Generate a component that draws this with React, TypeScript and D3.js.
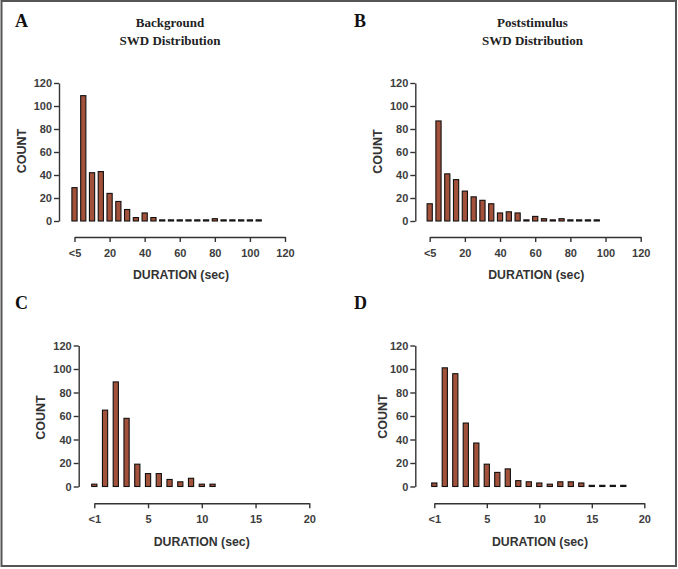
import React, { useEffect, useRef } from "react";
import * as d3 from "d3";

// Bin starts (seconds) and counts
const binsA = [0, 5, 10, 15, 20, 25, 30, 35, 40, 45, 50, 55, 60, 65, 70, 75, 80, 85, 90, 95, 100, 105];
const countsA = [29, 109, 42, 43, 24, 17, 10, 3, 7, 3, 1, 1, 1, 1, 1, 1, 2, 1, 1, 1, 1, 1];

const binsB = [0, 5, 10, 15, 20, 25, 30, 35, 40, 45, 50, 55, 60, 65, 70, 75, 80, 85, 90, 95];
const countsB = [15, 87, 41, 36, 26, 21, 18, 15, 7, 8, 7, 1, 4, 2, 1, 2, 1, 1, 1, 1];

const binsC = [0, 1, 2, 3, 4, 5, 6, 7, 8, 9, 10, 11];
const countsC = [2, 65, 89, 58, 19, 11, 11, 6, 4, 7, 2, 2];

const binsD = [0, 1, 2, 3, 4, 5, 6, 7, 8, 9, 10, 11, 12, 13, 14, 15, 16, 17, 18];
const countsD = [3, 101, 96, 54, 37, 19, 12, 15, 5, 4, 3, 2, 4, 4, 3, 1, 1, 1, 1];

const yTicks = [0, 20, 40, 60, 80, 100, 120];
const xTicksLong = [0, 20, 40, 60, 80, 100, 120];
const xTicksShort = [0, 5, 10, 15, 20];
const xLabelLong = "<5";
const xLabelShort = "<1";

const titleA = ["Background", "SWD Distribution"];
const titleB = ["Poststimulus", "SWD Distribution"];

type PanelProps = {
  letter: string;
  letterX: number;
  letterY: number;
  title?: string[];
  titleX?: number;
  bins: number[];
  counts: number[];
  xMax: number;
  xTicks: number[];
  zeroLabel: string;
  yAxisX: number;
  yTop: number;
  yBottom: number;
  xLeft: number;
  xRight: number;
  xAxisY: number;
  countPos: [number, number];
  durPos: [number, number];
  tickLabelY: number;
};

const BAR_FILL = "#a2513b";
const AXIS = "#333";
const TICK_TEXT = "#3d3d3d";
const SANS = "Liberation Sans, Arial, sans-serif";
const SERIF = "Liberation Serif, Times New Roman, serif";

function Panel(p: PanelProps) {
  const yRef = useRef<SVGGElement>(null);
  const xRef = useRef<SVGGElement>(null);
  const y = d3.scaleLinear().domain([0, 120]).range([p.yBottom, p.yTop]);
  const x = d3.scaleLinear().domain([0, p.xMax]).range([p.xLeft, p.xRight]);
  const bw = 5.2;

  useEffect(() => {
    const gy = d3.select(yRef.current!);
    gy.selectAll("*").remove();
    gy.attr("transform", `translate(${p.yAxisX},0)`)
      .call(d3.axisLeft(y).tickValues(yTicks).tickSize(5).tickSizeOuter(0).tickPadding(2));
    gy.select(".domain").attr("stroke", AXIS).attr("stroke-width", 1.4);
    gy.selectAll(".tick line").attr("stroke", AXIS).attr("stroke-width", 1.4);
    gy.selectAll(".tick text")
      .attr("fill", TICK_TEXT)
      .attr("font-family", SANS)
      .attr("font-weight", "bold")
      .attr("font-size", 11);

    const gx = d3.select(xRef.current!);
    gx.selectAll("*").remove();
    gx.attr("transform", `translate(0,${p.xAxisY})`)
      .call(
        d3
          .axisBottom(x)
          .tickValues(p.xTicks)
          .tickSize(5)
          .tickSizeOuter(0)
          .tickPadding(4)
          .tickFormat((d) => (d === 0 ? p.zeroLabel : String(d)))
      );
    gx.select(".domain").attr("stroke", AXIS).attr("stroke-width", 1.4);
    gx.selectAll(".tick line").attr("stroke", AXIS).attr("stroke-width", 1.4);
    gx.selectAll(".tick text")
      .attr("fill", TICK_TEXT)
      .attr("font-family", SANS)
      .attr("font-weight", "bold")
      .attr("font-size", 11)
      .attr("dy", null)
      .attr("y", p.tickLabelY - p.xAxisY);
  });

  return (
    <g>
      <text x={p.letterX} y={p.letterY} fontFamily={SERIF} fontWeight="bold" fontSize={18} fill="#111">
        {p.letter}
      </text>
      {p.title && (
        <g>
          <text x={p.titleX} y={27} textAnchor="middle" fontFamily={SERIF} fontWeight="bold" fontSize={13} fill="#222">
            {p.title[0]}
          </text>
          <text x={p.titleX} y={45} textAnchor="middle" fontFamily={SERIF} fontWeight="bold" fontSize={13} fill="#222">
            {p.title[1]}
          </text>
        </g>
      )}
      {p.bins.map((b, i) => {
        const v = p.counts[i];
        const top = y(v);
        return (
          <rect
            key={i}
            x={x(b) - bw / 2}
            y={top}
            width={bw}
            height={y(0) - top}
            fill={BAR_FILL}
            stroke="#111"
            strokeWidth={1.1}
          />
        );
      })}
      <g ref={yRef} />
      <g ref={xRef} />
      <text
        transform={`translate(${p.countPos[0]},${p.countPos[1]}) rotate(-90)`}
        textAnchor="middle"
        dominantBaseline="central"
        fontFamily={SANS}
        fontWeight="bold"
        fontSize={12.5}
        fill="#333"
      >
        COUNT
      </text>
      <text x={p.durPos[0]} y={p.durPos[1]} textAnchor="middle" fontFamily={SANS} fontWeight="bold" fontSize={12.3} fill="#333">
        DURATION (sec)
      </text>
    </g>
  );
}

export default function App() {
  return (
    <div style={{ position: "absolute", left: 0, top: 0 }}>
      <svg width={678} height={569} style={{ display: "block", background: "#fff" }}>
        <rect x={1.5} y={1} width={674.5} height={565} fill="#fff" stroke="#555" strokeWidth={2} />
        <Panel
          letter="A"
          letterX={15}
          letterY={27}
          title={titleA}
          titleX={170}
          bins={binsA}
          counts={countsA}
          xMax={120}
          xTicks={xTicksLong}
          zeroLabel={xLabelLong}
          yAxisX={59}
          yTop={83}
          yBottom={221}
          xLeft={74.5}
          xRight={285}
          xAxisY={237}
          countPos={[22, 151]}
          durPos={[181, 279]}
          tickLabelY={257}
        />
        <Panel
          letter="B"
          letterX={354}
          letterY={27}
          title={titleB}
          titleX={532.5}
          bins={binsB}
          counts={countsB}
          xMax={120}
          xTicks={xTicksLong}
          zeroLabel={xLabelLong}
          yAxisX={415.3}
          yTop={83}
          yBottom={221}
          xLeft={429.7}
          xRight={640.7}
          xAxisY={237}
          countPos={[378, 151.5]}
          durPos={[536.3, 279]}
          tickLabelY={257}
        />
        <Panel
          letter="C"
          letterX={15}
          letterY={309}
          bins={binsC}
          counts={countsC}
          xMax={20}
          xTicks={xTicksShort}
          zeroLabel={xLabelShort}
          yAxisX={78.7}
          yTop={345.5}
          yBottom={486.5}
          xLeft={94.3}
          xRight={309.3}
          xAxisY={503.3}
          countPos={[41, 417.5]}
          durPos={[201.7, 545.5]}
          tickLabelY={523.3}
        />
        <Panel
          letter="D"
          letterX={354}
          letterY={309}
          bins={binsD}
          counts={countsD}
          xMax={20}
          xTicks={xTicksShort}
          zeroLabel={xLabelShort}
          yAxisX={415.3}
          yTop={345.5}
          yBottom={486.5}
          xLeft={434.3}
          xRight={644.3}
          xAxisY={503.3}
          countPos={[383, 416.5]}
          durPos={[540, 545.5]}
          tickLabelY={523.3}
        />
      </svg>
    </div>
  );
}
